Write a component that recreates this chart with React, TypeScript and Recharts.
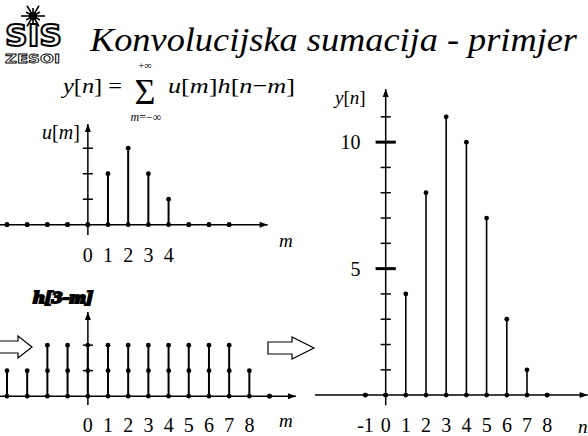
import React from "react";
import {
  ComposedChart,
  Bar,
  Scatter,
  XAxis,
  YAxis,
  ReferenceLine,
  ReferenceDot,
} from "recharts";

const FONT = '"Liberation Serif", "Times New Roman", Times, "DejaVu Serif", "Noto Serif", serif';

// u[m]
const uIndex = [-4, -3, -2, -1, 0, 1, 2, 3, 4, 5, 6, 7];
const uValues = [0, 0, 0, 0, 0, 2, 3, 2, 1, 0, 0, 0];
const uTicks = [1, 2, 3];
const uTickLabels = [0, 1, 2, 3, 4];

// h[3-m]
const hIndex = [-4, -3, -2, -1, 0, 1, 2, 3, 4, 5, 6, 7, 8, 9];
const hValues = [1, 1, 2, 2, 2, 2, 2, 2, 2, 2, 2, 2, 1, 0];
const hInnerIndex = [-2, -1, 0, 1, 2, 3, 4, 5, 6, 7];
const hInnerValues = [1, 1, 1, 1, 1, 1, 1, 1, 1, 1];
const hTicks = [1, 2];
const hTickLabels = [0, 1, 2, 3, 4, 5, 6, 7, 8];

// y[n]
const yIndex = [-1, 0, 1, 2, 3, 4, 5, 6, 7, 8];
const yValues = [0, 0, 4, 8, 11, 10, 7, 3, 1, 0];
const yMinorTicks = [1, 2, 3, 4, 6, 7, 8, 9, 11];
const yMajorTicks = [5, 10];
const yTickLabels = [-1, 0, 1, 2, 3, 4, 5, 6, 7, 8];

const makeStem = (sw: number) => (props: any) => {
  const { x, y, width, height } = props;
  if (x == null || y == null) return <g />;
  const cx = x + width / 2;
  return (
    <g>
      <line x1={cx} x2={cx} y1={y} y2={y + height} stroke="#000" strokeWidth={sw} />
      <circle cx={cx} cy={y} r={2.4} fill="#000" />
      <circle cx={cx} cy={y + height} r={2.4} fill="#000" />
    </g>
  );
};

const arrowRight = (props: any) => (
  <path d={`M${props.cx},${props.cy} l-8,-3 l0,6 z`} fill="#000" />
);
const arrowUp = (props: any) => (
  <path d={`M${props.cx},${props.cy} l-3,8 l6,0 z`} fill="#000" />
);
const innerDot = (props: any) => <circle cx={props.cx} cy={props.cy} r={2.4} fill="#000" />;

type PanelProps = {
  originX: number;
  originY: number;
  unitX: number;
  unitY: number;
  xDomain: [number, number];
  yDomain: [number, number];
  index: number[];
  values: number[];
  innerIndex?: number[];
  innerValues?: number[];
  minorTicks: number[];
  majorTicks?: number[];
  tickLabels: number[];
  stemWidth: number;
};

function StemPanel(p: PanelProps) {
  const plotW = (p.xDomain[1] - p.xDomain[0]) * p.unitX;
  const plotH = (p.yDomain[1] - p.yDomain[0]) * p.unitY;
  const left = p.originX + p.xDomain[0] * p.unitX;
  const top = p.originY - p.yDomain[1] * p.unitY;
  const data = p.index.map((m, i) => ({ m, v: p.values[i] }));
  const inner = (p.innerIndex || []).map((m, i) => ({ m, v: (p.innerValues || [])[i] }));

  return (
    <div style={{ position: "absolute", left, top }}>
      <ComposedChart
        width={plotW}
        height={plotH + 40}
        data={data}
        margin={{ top: 0, right: 0, bottom: 0, left: 0 }}
      >
        <XAxis
          type="number"
          dataKey="m"
          domain={p.xDomain}
          allowDataOverflow
          ticks={p.tickLabels}
          interval={0}
          axisLine={false}
          tickLine={false}
          height={40}
          tickMargin={7}
          tick={{ fill: "#000", fontSize: 20, fontFamily: FONT }}
        />
        <YAxis type="number" domain={p.yDomain} allowDataOverflow hide />
        <ReferenceLine y={0} stroke="#000" strokeWidth={1.5} />
        <ReferenceLine x={0} stroke="#000" strokeWidth={1.5} />
        <ReferenceDot x={p.xDomain[1]} y={0} ifOverflow="visible" shape={arrowRight} />
        <ReferenceDot x={0} y={p.yDomain[1]} ifOverflow="visible" shape={arrowUp} />
        {p.minorTicks.map((t) => (
          <ReferenceLine
            key={`t${t}`}
            segment={[
              { x: -0.25, y: t },
              { x: 0.25, y: t },
            ]}
            stroke="#000"
            strokeWidth={1.5}
          />
        ))}
        {(p.majorTicks || []).map((t) => (
          <ReferenceLine
            key={`T${t}`}
            segment={[
              { x: -0.5, y: t },
              { x: 0.5, y: t },
            ]}
            stroke="#000"
            strokeWidth={3}
            label={{
              value: String(t),
              position: "left",
              offset: 15,
              fill: "#000",
              fontSize: 20,
              fontFamily: FONT,
            }}
          />
        ))}
        <Bar
          dataKey="v"
          barSize={2}
          isAnimationActive={false}
          shape={makeStem(p.stemWidth)}
        />
        {inner.length > 0 && (
          <Scatter data={inner} dataKey="v" isAnimationActive={false} shape={innerDot} />
        )}
      </ComposedChart>
    </div>
  );
}

function BlockArrow({ x0, x1, x2, cy }: { x0: number; x1: number; x2: number; cy: number }) {
  const pts = [
    [x0, cy - 6],
    [x1, cy - 6],
    [x1, cy - 11],
    [x2, cy],
    [x1, cy + 11],
    [x1, cy + 6],
    [x0, cy + 6],
  ]
    .map((q) => q.join(","))
    .join(" ");
  return <polygon points={pts} fill="#fff" stroke="#000" strokeWidth={1.2} />;
}

function Logo() {
  const rays = [0, 30, 60, 90, 120, 150, 180, 210, 240, 270, 300, 330];
  return (
    <g>
      {rays.map((a) => {
        const r = (a * Math.PI) / 180;
        const len = a % 60 === 0 ? 12 : 8;
        return (
          <line
            key={a}
            x1={33}
            y1={16}
            x2={33 + Math.cos(r) * len}
            y2={16 + Math.sin(r) * len}
            stroke="#000"
            strokeWidth={1.6}
          />
        );
      })}
      <circle cx={33} cy={16} r={4} fill="#000" />
      <text
        x={5}
        y={46}
        fontFamily="'DejaVu Sans', sans-serif"
        fontWeight="bold"
        fontSize={30}
        textLength={57}
        lengthAdjust="spacingAndGlyphs"
        fill="#fff"
        stroke="#000"
        strokeWidth={2}
      >
        SIS
      </text>
      <text
        x={5}
        y={63}
        fontFamily="'DejaVu Sans', sans-serif"
        fontWeight="bold"
        fontSize={12}
        textLength={55}
        lengthAdjust="spacingAndGlyphs"
        fill="#fff"
        stroke="#000"
        strokeWidth={0.8}
      >
        ZESOI
      </text>
    </g>
  );
}

export default function App() {
  return (
    <div
      style={{
        position: "relative",
        width: 588,
        height: 436,
        background: "#fff",
        overflow: "hidden",
        fontFamily: FONT,
      }}
    >
      <style>{"body{margin:0}"}</style>

      <StemPanel
        originX={88}
        originY={225}
        unitX={20.2}
        unitY={25.5}
        xDomain={[-4.35, 8.9]}
        yDomain={[-0.4, 3.95]}
        index={uIndex}
        values={uValues}
        minorTicks={uTicks}
        tickLabels={uTickLabels}
        stemWidth={2}
      />
      <StemPanel
        originX={88}
        originY={396}
        unitX={20.2}
        unitY={25.5}
        xDomain={[-4.35, 10.3]}
        yDomain={[-0.35, 3.3]}
        index={hIndex}
        values={hValues}
        innerIndex={hInnerIndex}
        innerValues={hInnerValues}
        minorTicks={hTicks}
        tickLabels={hTickLabels}
        stemWidth={2}
      />
      <StemPanel
        originX={386}
        originY={395}
        unitX={20.2}
        unitY={25.3}
        xDomain={[-3.5, 10.0]}
        yDomain={[-0.4, 12.1]}
        index={yIndex}
        values={yValues}
        minorTicks={yMinorTicks}
        majorTicks={yMajorTicks}
        tickLabels={yTickLabels}
        stemWidth={1.6}
      />

      <svg
        width={588}
        height={436}
        style={{ position: "absolute", left: 0, top: 0, pointerEvents: "none", fontFamily: FONT }}
      >
        <Logo />
        <text
          x={90}
          y={51}
          fontSize={33}
          fontStyle="italic"
          textLength={487}
          lengthAdjust="spacingAndGlyphs"
        >
          Konvolucijska sumacija - primjer
        </text>

        {/* y[n] = sum u[m]h[n-m] */}
        <text x={63} y={93} fontSize={22} textLength={59} lengthAdjust="spacingAndGlyphs">
          <tspan fontStyle="italic">y</tspan>[<tspan fontStyle="italic">n</tspan>] =
        </text>
        <text x={145} y={103.5} fontSize={36} textAnchor="middle">
          Σ
        </text>
        <text x={145} y={68.5} fontSize={10.5} textAnchor="middle">
          +∞
        </text>
        <text x={146} y={121} fontSize={12} textAnchor="middle">
          <tspan fontStyle="italic">m</tspan>=−∞
        </text>
        <text x={168} y={93} fontSize={22} textLength={127} lengthAdjust="spacingAndGlyphs">
          <tspan fontStyle="italic">u</tspan>[<tspan fontStyle="italic">m</tspan>]
          <tspan fontStyle="italic">h</tspan>[<tspan fontStyle="italic">n</tspan>−
          <tspan fontStyle="italic">m</tspan>]
        </text>

        <text x={42} y={139} fontSize={20}>
          <tspan fontStyle="italic">u</tspan>[<tspan fontStyle="italic">m</tspan>]
        </text>
        <text x={279} y={247} fontSize={19} fontStyle="italic">
          m
        </text>

        <text
          x={33}
          y={303}
          fontSize={17}
          fontWeight="bold"
          fontStyle="italic"
          stroke="#000"
          strokeWidth={1.8}
          textLength={60}
          lengthAdjust="spacingAndGlyphs"
        >
          h[3-m]
        </text>
        <text x={279} y={427} fontSize={19} fontStyle="italic">
          m
        </text>

        <text x={335} y={104} fontSize={19}>
          <tspan fontStyle="italic">y</tspan>[<tspan fontStyle="italic">n</tspan>]
        </text>
        <text x={578} y={433} fontSize={19} fontStyle="italic">
          n
        </text>

        <BlockArrow x0={-5} x1={18} x2={32} cy={347} />
        <BlockArrow x0={268} x1={292} x2={314} cy={348} />
      </svg>
    </div>
  );
}
